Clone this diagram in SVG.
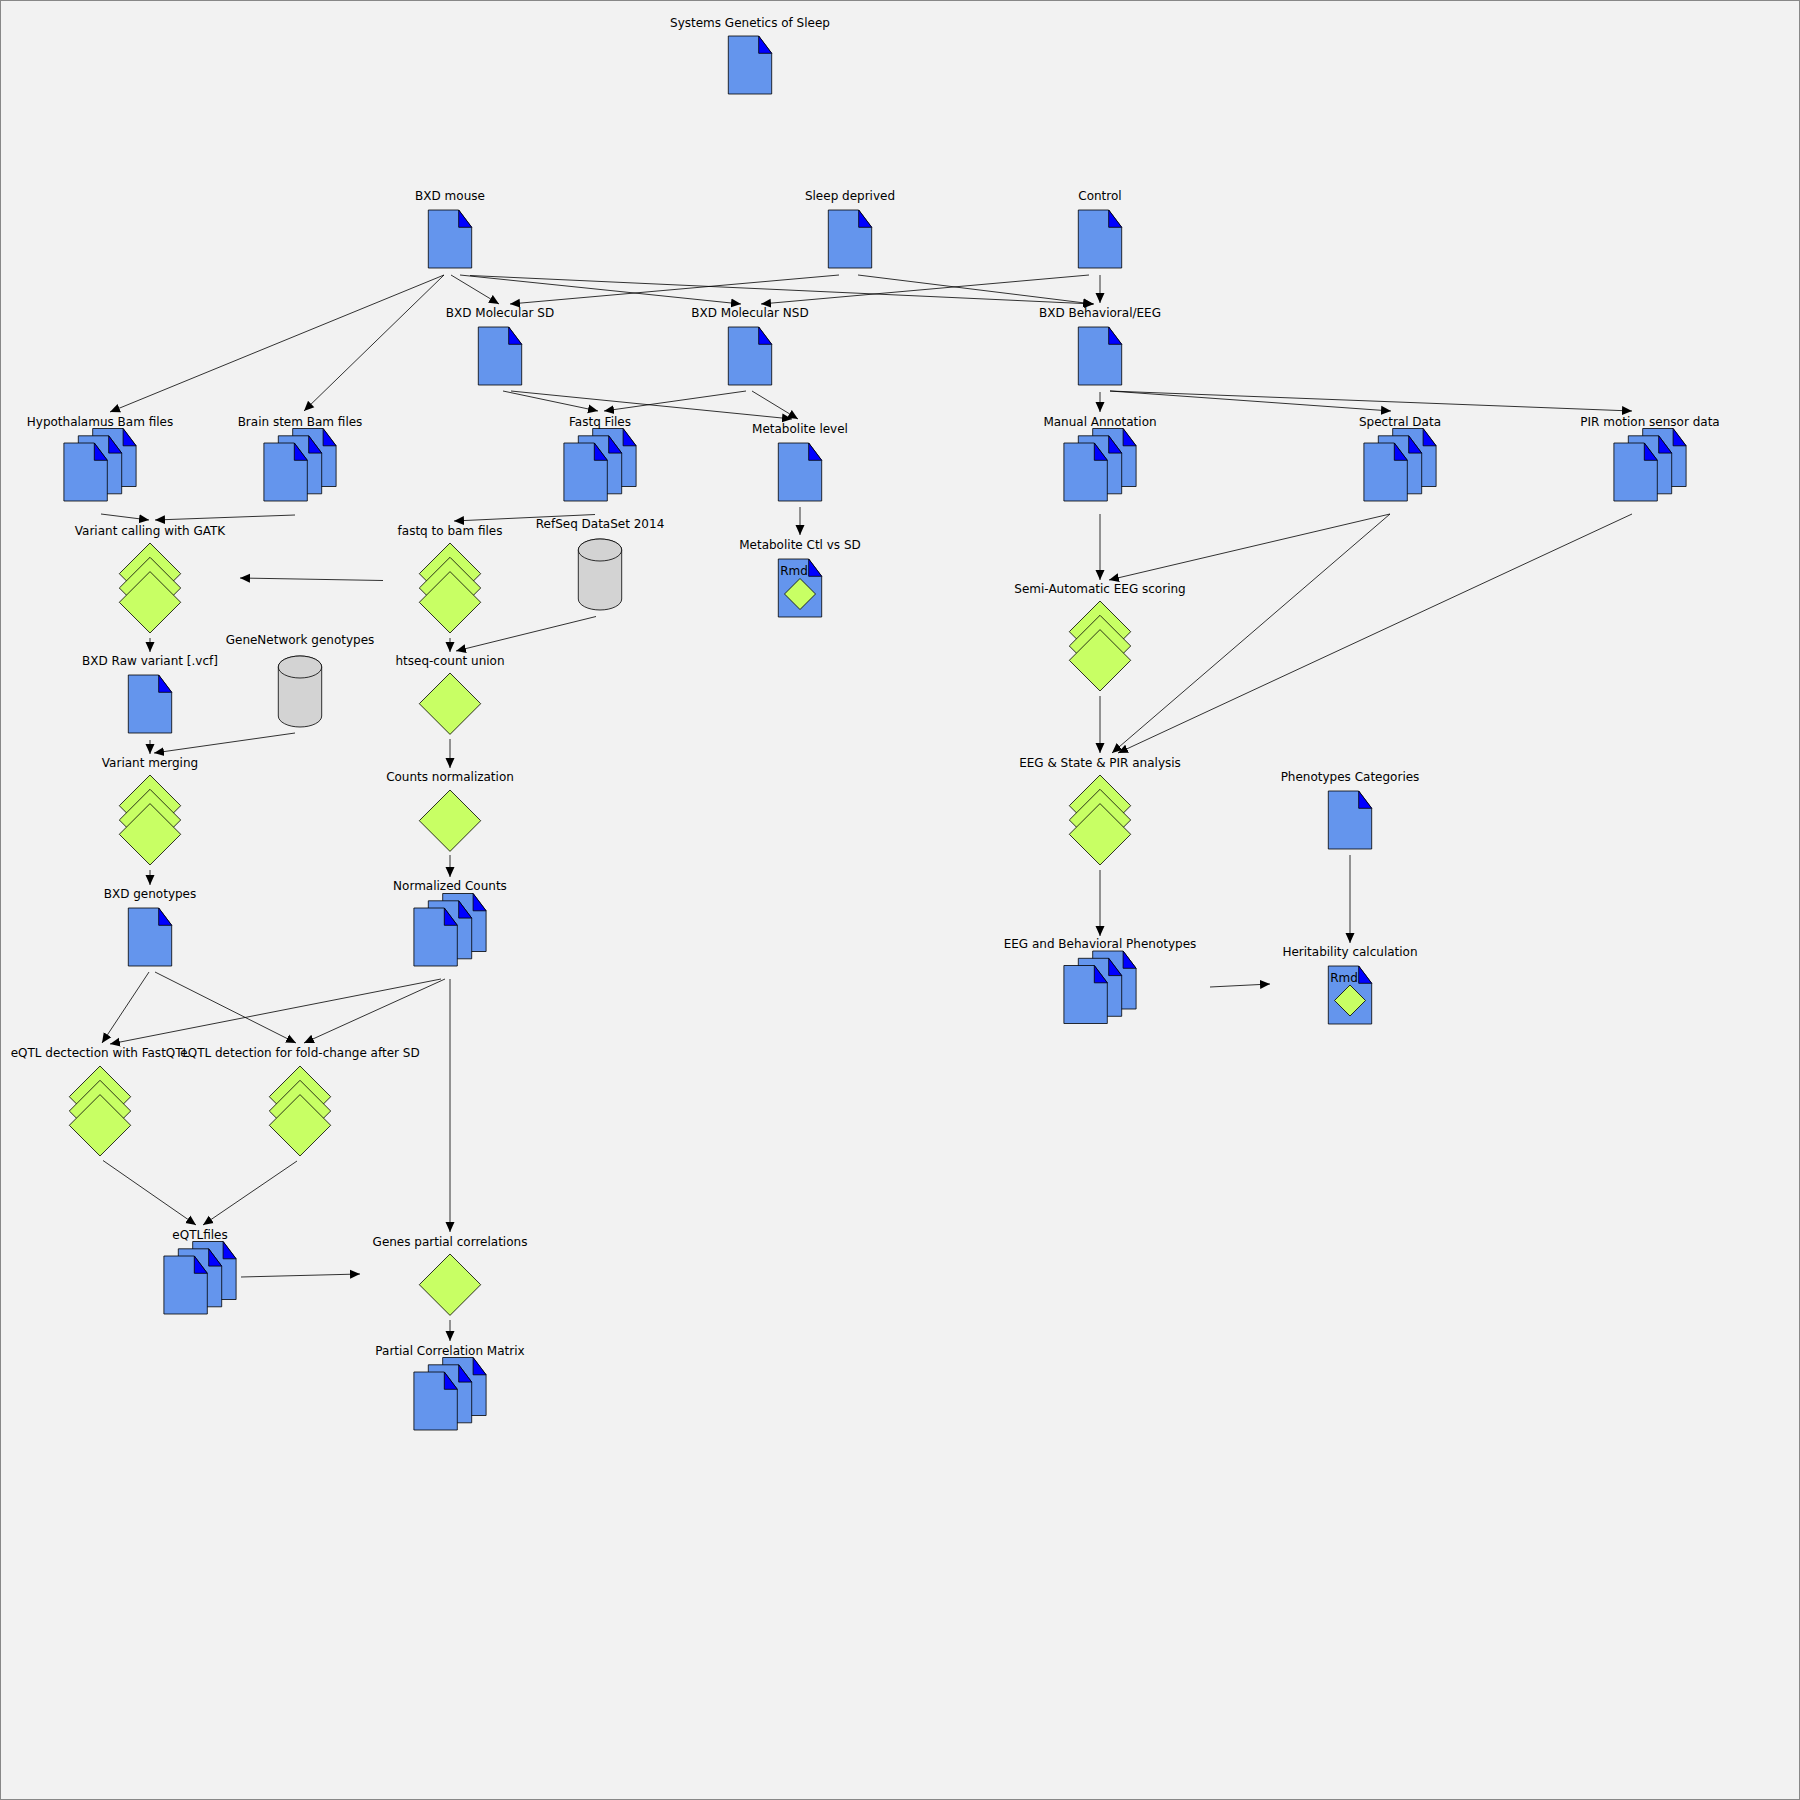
<svg xmlns="http://www.w3.org/2000/svg" xmlns:xlink="http://www.w3.org/1999/xlink" width="1800" height="1800" viewBox="0 0 1800 1800">
<style>
text{font-family:"DejaVu Sans",sans-serif;font-size:12px;fill:#000;text-anchor:middle;dominant-baseline:central}
.doc{fill:#6495ed;stroke:#000;stroke-width:0.8}
.fold{fill:#0000ff;stroke:#000;stroke-width:0.8}
.dia{fill:#c8ff64;stroke:#000;stroke-width:0.8}
.cyl{fill:#d3d3d3;stroke:#000;stroke-width:0.8}
#edges line{stroke:#000;stroke-width:0.8;fill:none;marker-end:url(#arr)}
</style>
<defs>
<marker id="arr" markerUnits="userSpaceOnUse" markerWidth="11" markerHeight="10" refX="10" refY="5" orient="auto"><path d="M0,0.5 L10,5 L0,9.5 Z" fill="#000"/></marker>
<g id="d"><path class="doc" d="M-21.7,0H8.7L21.7,17.3V58H-21.7Z"/><path class="fold" d="M8.7,0L21.7,17.3H8.7Z"/></g>
<g id="m"><use href="#d" x="14.4" y="-14.5"/><use href="#d" y="-7.2"/><use href="#d" x="-14.4"/></g>
<path id="k" class="dia" d="M0,0L30.7,30.7L0,61.4L-30.7,30.7Z"/>
<g id="s"><use href="#k"/><use href="#k" y="14.3"/><use href="#k" y="28.6"/></g>
<g id="c"><path class="cyl" d="M-21.7,11V60A21.7,11 0 0 0 21.7,60V11A21.7,11 0 0 0 -21.7,11Z"/><ellipse class="cyl" cx="0" cy="11" rx="21.7" ry="11"/></g>
</defs>
<rect x="0.5" y="0.5" width="1799" height="1799" fill="#f2f2f2" stroke="#888" stroke-width="1"/>
<g id="edges">
<line x1="444" y1="275" x2="110" y2="412"/>
<line x1="444" y1="275" x2="304" y2="411"/>
<line x1="451" y1="275" x2="499" y2="304"/>
<line x1="460" y1="275" x2="741" y2="304"/>
<line x1="470" y1="275.5" x2="1094" y2="304"/>
<line x1="839" y1="275" x2="510" y2="304"/>
<line x1="858" y1="275" x2="1093" y2="304"/>
<line x1="1089" y1="275" x2="761" y2="304"/>
<line x1="1100" y1="275" x2="1100" y2="303"/>
<line x1="503" y1="391" x2="598" y2="411"/>
<line x1="511" y1="391" x2="792" y2="419"/>
<line x1="746" y1="391" x2="604" y2="411"/>
<line x1="752" y1="391" x2="798" y2="419"/>
<line x1="1100" y1="392" x2="1100" y2="412"/>
<line x1="1110" y1="391" x2="1391" y2="411"/>
<line x1="1110" y1="391" x2="1632" y2="411"/>
<line x1="101" y1="514" x2="149" y2="520"/>
<line x1="295" y1="515" x2="155" y2="520"/>
<line x1="595" y1="514.5" x2="454" y2="521"/>
<line x1="383" y1="580.5" x2="240" y2="578"/>
<line x1="150" y1="638" x2="150" y2="652"/>
<line x1="450" y1="638" x2="450" y2="652"/>
<line x1="596" y1="616.5" x2="456" y2="651"/>
<line x1="150" y1="740" x2="150" y2="754"/>
<line x1="295" y1="733" x2="154" y2="753"/>
<line x1="450" y1="739" x2="450" y2="768"/>
<line x1="450" y1="855" x2="450" y2="877"/>
<line x1="150" y1="870" x2="150" y2="885"/>
<line x1="149" y1="972" x2="102" y2="1043"/>
<line x1="155" y1="972" x2="296" y2="1043"/>
<line x1="441" y1="979" x2="110" y2="1044"/>
<line x1="445" y1="979" x2="304" y2="1043"/>
<line x1="450" y1="979" x2="450" y2="1232"/>
<line x1="103" y1="1160.5" x2="196" y2="1225"/>
<line x1="297" y1="1161" x2="203" y2="1225"/>
<line x1="241" y1="1277" x2="360" y2="1274"/>
<line x1="450" y1="1320" x2="450" y2="1341"/>
<line x1="800" y1="507" x2="800" y2="535"/>
<line x1="1100" y1="514" x2="1100" y2="580"/>
<line x1="1390" y1="514" x2="1109" y2="580"/>
<line x1="1390" y1="514" x2="1112" y2="753"/>
<line x1="1632" y1="514" x2="1118" y2="753"/>
<line x1="1100" y1="696" x2="1100" y2="753"/>
<line x1="1100" y1="870" x2="1100" y2="936"/>
<line x1="1350" y1="855" x2="1350" y2="943"/>
<line x1="1210" y1="987" x2="1270" y2="984"/>
</g>
<g id="n1"><text x="750" y="22.5">Systems Genetics of Sleep</text><use href="#d" x="750" y="36"/></g>
<g id="n2"><text x="450" y="196">BXD mouse</text><use href="#d" x="450" y="210"/></g>
<g id="n3"><text x="850" y="196">Sleep deprived</text><use href="#d" x="850" y="210"/></g>
<g id="n4"><text x="1100" y="196">Control</text><use href="#d" x="1100" y="210"/></g>
<g id="n5"><text x="500" y="312.5">BXD Molecular SD</text><use href="#d" x="500" y="327"/></g>
<g id="n6"><text x="750" y="312.5">BXD Molecular NSD</text><use href="#d" x="750" y="327"/></g>
<g id="n7"><text x="1100" y="312.5">BXD Behavioral/EEG</text><use href="#d" x="1100" y="327"/></g>
<g id="n8"><use href="#m" x="100" y="443"/><text x="100" y="421.5">Hypothalamus Bam files</text></g>
<g id="n9"><use href="#m" x="300" y="443"/><text x="300" y="421.5">Brain stem Bam files</text></g>
<g id="n10"><use href="#m" x="600" y="443"/><text x="600" y="421.5">Fastq Files</text></g>
<g id="n11"><use href="#m" x="1100" y="443"/><text x="1100" y="421.5">Manual Annotation</text></g>
<g id="n12"><use href="#m" x="1400" y="443"/><text x="1400" y="421.5">Spectral Data</text></g>
<g id="n13"><use href="#m" x="1650" y="443"/><text x="1650" y="421.5">PIR motion sensor data</text></g>
<g id="n14"><text x="800" y="429">Metabolite level</text><use href="#d" x="800" y="443"/></g>
<g id="n15"><text x="800" y="544.5">Metabolite Ctl vs SD</text><use href="#d" x="800" y="559"/><text x="794" y="571">Rmd</text><path class="dia" d="M800,578.5L815.5,594L800,609.5L784.5,594Z"/></g>
<g id="n16"><text x="150" y="531">Variant calling with GATK</text><use href="#s" x="150" y="543"/></g>
<g id="n17"><text x="450" y="531">fastq to bam files</text><use href="#s" x="450" y="543"/></g>
<g id="n18"><text x="600" y="523.5">RefSeq DataSet 2014</text><use href="#c" x="600" y="539"/></g>
<g id="n19"><text x="1100" y="589">Semi-Automatic EEG scoring</text><use href="#s" x="1100" y="601"/></g>
<g id="n20"><text x="150" y="660.5">BXD Raw variant [.vcf]</text><use href="#d" x="150" y="675"/></g>
<g id="n21"><text x="300" y="640">GeneNetwork genotypes</text><use href="#c" x="300" y="656"/></g>
<g id="n22"><text x="450" y="660.5">htseq-count union</text><use href="#k" x="450" y="673"/></g>
<g id="n23"><text x="150" y="762.5">Variant merging</text><use href="#s" x="150" y="775"/></g>
<g id="n24"><text x="450" y="776.5">Counts normalization</text><use href="#k" x="450" y="790"/></g>
<g id="n25"><text x="1100" y="762.5">EEG &amp; State &amp; PIR analysis</text><use href="#s" x="1100" y="775"/></g>
<g id="n26"><text x="1350" y="776.5">Phenotypes Categories</text><use href="#d" x="1350" y="791"/></g>
<g id="n27"><text x="150" y="894">BXD genotypes</text><use href="#d" x="150" y="908"/></g>
<g id="n28"><use href="#m" x="450" y="908"/><text x="450" y="886">Normalized Counts</text></g>
<g id="n29"><use href="#m" x="1100" y="965.5"/><text x="1100" y="944">EEG and Behavioral Phenotypes</text></g>
<g id="n30"><text x="1350" y="952">Heritability calculation</text><use href="#d" x="1350" y="966"/><text x="1344" y="978">Rmd</text><path class="dia" d="M1350,985L1365.5,1000.5L1350,1016L1334.5,1000.5Z"/></g>
<g id="n31"><text x="100" y="1053">eQTL dectection with FastQTL</text><use href="#s" x="100" y="1066"/></g>
<g id="n32"><text x="300" y="1053">eQTL detection for fold-change after SD</text><use href="#s" x="300" y="1066"/></g>
<g id="n33"><use href="#m" x="200" y="1256"/><text x="200" y="1235">eQTLfiles</text></g>
<g id="n34"><text x="450" y="1242">Genes partial correlations</text><use href="#k" x="450" y="1254"/></g>
<g id="n35"><use href="#m" x="450" y="1372"/><text x="450" y="1350.5">Partial Correlation Matrix</text></g>
</svg>
